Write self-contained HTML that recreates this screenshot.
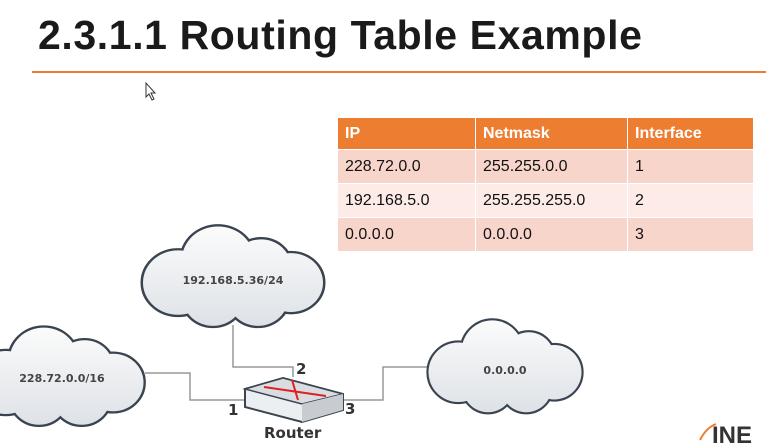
<!DOCTYPE html>
<html><head><style>
body{margin:0;width:772px;height:445px;background:#fff;position:relative;overflow:hidden;font-family:"Liberation Sans",sans-serif}
.t{position:absolute;left:38px;top:12px;font-size:41px;font-weight:bold;color:#1a1a1a;letter-spacing:0.6px}
table{position:absolute;left:337px;top:117px;border-collapse:collapse;font-size:16px;color:#111;table-layout:fixed;width:416px}
td{height:34px;padding:0 0 0 7px;border:1px solid #fff;box-sizing:border-box}
th{height:32px;padding:0 0 0 7px;text-align:left;background:#ed7d31;color:#fff;border:1px solid #fff;font-size:16px;box-sizing:border-box}
.a td{background:#f8d5cb}.b td{background:#fcebe6}
</style></head><body>
<div class="t">2.3.1.1 Routing Table Example</div>
<div style="position:absolute;left:32px;top:71px;width:734px;height:2px;background:#ed7d31"></div>
<table>
<colgroup><col style="width:138px"><col style="width:152px"><col style="width:126px"></colgroup>
<tr><th>IP</th><th>Netmask</th><th>Interface</th></tr>
<tr class="a"><td>228.72.0.0</td><td>255.255.0.0</td><td>1</td></tr>
<tr class="b"><td>192.168.5.0</td><td>255.255.255.0</td><td>2</td></tr>
<tr class="a"><td>0.0.0.0</td><td>0.0.0.0</td><td>3</td></tr>
</table>
<svg width="772" height="445" style="position:absolute;left:0;top:0">
<defs>
<linearGradient id="g" gradientUnits="userSpaceOnUse" x1="0" y1="-55" x2="0" y2="55"><stop offset="0" stop-color="#fbfbfb"/><stop offset="1" stop-color="#dde1e6"/></linearGradient>
<g id="cl">
<circle cx="-55" cy="5" r="35"/><circle cx="-15" cy="-20" r="36"/><circle cx="28" cy="-12" r="30"/><circle cx="58" cy="5" r="32"/><circle cx="25" cy="22" r="30"/><circle cx="-20" cy="22" r="30"/><circle cx="0" cy="5" r="35"/>
</g>
</defs>
<g fill="none" stroke="#999" stroke-width="1.5">
<polyline points="233,325 233,367 293,367 293,377"/>
<polyline points="145,373 190,373 190,400 245,400"/>
<polyline points="343,400 383,400 383,367 430,367"/>
</g>
<g transform="translate(233,278) scale(1,0.92)"><use href="#cl" stroke="#3a4450" stroke-width="5" fill="#3a4450"/><use href="#cl" fill="url(#g)"/></g>
<g transform="translate(58,378) scale(0.95,0.9)"><use href="#cl" stroke="#3a4450" stroke-width="5" fill="#3a4450"/><use href="#cl" fill="url(#g)"/></g>
<g transform="translate(505,368) scale(0.85,0.85)"><use href="#cl" stroke="#3a4450" stroke-width="5" fill="#3a4450"/><use href="#cl" fill="url(#g)"/></g>
<g font-family="DejaVu Sans,sans-serif" font-weight="bold" fill="#444" font-size="11" text-anchor="middle">
<text x="233" y="284">192.168.5.36/24</text><text x="62" y="382">228.72.0.0/16</text><text x="505" y="374">0.0.0.0</text></g>
<polygon points="245,389 283,378 343,394 343,410 302,422 245,407" fill="#eceff2" stroke="#3a4450" stroke-width="2"/>
<polygon points="245,389 283,378 343,394 302,404" fill="#d9dde2" stroke="#3a4450" stroke-width="1.5"/>
<polygon points="302,404 343,394 343,410 302,422" fill="#c8ccd1"/>
<line x1="264" y1="387" x2="326" y2="396" stroke="#e02020" stroke-width="2"/>
<line x1="292" y1="380" x2="298" y2="400" stroke="#e02020" stroke-width="2"/>
<g font-family="DejaVu Sans,sans-serif" font-weight="bold" fill="#333" font-size="15">
<text x="296" y="374">2</text><text x="228" y="415">1</text><text x="345" y="414">3</text><text x="264" y="438">Router</text></g>
<text x="712" y="443" font-family="Liberation Sans,sans-serif" font-weight="bold" font-size="24" fill="#333">INE</text>
<path d="M700 440 Q706 428 716 424" stroke="#ed7d31" stroke-width="2" fill="none"/>
<path d="M146 83 l0 14 l3 -3 l3 6 l2 -1 l-3 -6 l4 0 z" fill="#fff" stroke="#333" stroke-width="1"/>
</svg>
</body></html>
